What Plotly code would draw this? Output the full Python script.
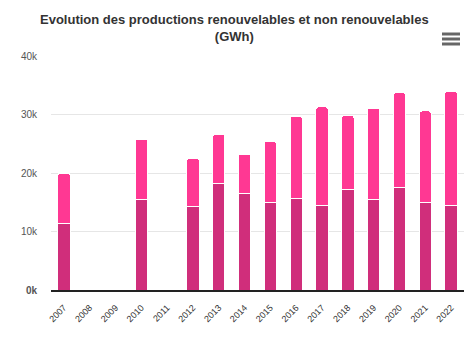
import plotly.graph_objects as go

years = ["2007", "2008", "2009", "2010", "2011", "2012", "2013", "2014", "2015",
         "2016", "2017", "2018", "2019", "2020", "2021", "2022"]
bottom_vals = [11300, 0, 0, 15400, 0, 14200, 18200, 16500, 14900,
               15600, 14400, 17200, 15400, 17500, 14900, 14400]
top_vals = [8700, 0, 0, 10400, 0, 8300, 8400, 6700, 10500,
            14100, 16900, 12700, 15700, 16200, 15700, 19600]
ytick_vals = [0, 10000, 20000, 30000, 40000]
ytick_text = ["<b>0k</b>", "10k", "20k", "30k", "40k"]

fig = go.Figure()
fig.add_trace(go.Bar(x=years, y=bottom_vals, name="Renouvelable",
                     marker=dict(color="#d02e7b", line=dict(color="white", width=1))))
fig.add_trace(go.Bar(x=years, y=top_vals, name="Non renouvelable",
                     marker=dict(color="#ff3893", line=dict(color="white", width=1))))

fig.update_layout(
    barmode="stack",
    bargap=0.52,
    barcornerradius=3,
    width=468, height=354,
    margin=dict(l=51, r=4, t=56, b=64),
    paper_bgcolor="white", plot_bgcolor="white",
    showlegend=False,
    font=dict(family="Liberation Sans, Arial, sans-serif", color="#333"),
    xaxis=dict(type="category", tickangle=-45, tickfont=dict(size=9, color="#333"),
               showline=True, linecolor="#222", linewidth=2, layer="below traces",
               ticks="", showgrid=False, ticklabelstandoff=7),
    yaxis=dict(range=[0, 40000], tickvals=ytick_vals, ticktext=ytick_text,
               tickfont=dict(size=10, color="#555"), gridcolor="#e6e6e6",
               zeroline=False, showline=False, ticks="", ticklabelstandoff=13),
    annotations=[dict(text="<b>Evolution des productions renouvelables et non renouvelables<br>(GWh)</b>",
                      xref="paper", yref="paper", x=(234 - 51) / 413, y=(290 - 28) / 234,
                      xanchor="center", yanchor="middle", showarrow=False,
                      font=dict(size=13, color="#333"))],
    shapes=[dict(type="line", xref="paper", yref="paper",
                 x0=(442 - 51) / 413, x1=(460 - 51) / 413,
                 y0=(290 - yy) / 234, y1=(290 - yy) / 234,
                 line=dict(color="#666", width=3)) for yy in (34, 39, 44)],
)

fig.write_html("out.html")
